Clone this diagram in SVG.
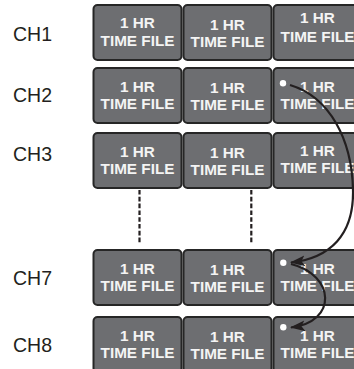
<svg xmlns="http://www.w3.org/2000/svg" width="354" height="369" viewBox="0 0 354 369">
<defs>
<style>
.box{fill:#6d6e71;stroke:#262626;stroke-width:2}
.t{font-family:"Liberation Sans",Arial,sans-serif;font-weight:bold;font-size:15.3px;fill:#f4f4f4;text-anchor:middle}
.ch{font-family:"Liberation Sans",Arial,sans-serif;font-size:19.5px;fill:#231f20}
.dash{stroke:#231f20;stroke-width:2.2;stroke-dasharray:4.6 2.2;fill:none}
.arc{stroke:#231f20;stroke-width:2.2;fill:none}
.dot{fill:#ffffff}
</style>
<marker id="ah" markerUnits="userSpaceOnUse" markerWidth="16" markerHeight="12" refX="14" refY="6" orient="auto" viewBox="0 0 16 12">
<path d="M0,0.5 L15,6 L0,11.5 L3.5,6 Z" fill="#231f20"/>
</marker>
<g id="tile">
<rect class="box" x="0" y="0" width="88" height="55" rx="4" ry="4"/>
</g>
</defs>
<rect width="354" height="369" fill="#ffffff"/>

<g id="labels">
<text class="ch" x="13" y="40.7">CH1</text>
<text class="ch" x="13" y="101.7">CH2</text>
<text class="ch" x="13" y="160.7">CH3</text>
<text class="ch" x="13" y="285">CH7</text>
<text class="ch" x="13" y="351.7">CH8</text>
</g>

<g id="ch1">
<g id="ch1-f1"><use href="#tile" x="93.5" y="5"/><text class="t" x="137.5" y="28.3">1 HR</text><text class="t" x="137.5" y="46">TIME FILE</text></g>
<g id="ch1-f2"><use href="#tile" x="183.5" y="5"/><text class="t" x="227.5" y="30">1 HR</text><text class="t" x="227.5" y="46.7">TIME FILE</text></g>
<g id="ch1-f3"><use href="#tile" x="273.5" y="5"/><text class="t" x="317.5" y="23.3">1 HR</text><text class="t" x="317.5" y="41.7">TIME FILE</text></g>
</g>
<g id="ch2">
<g id="ch2-f1"><use href="#tile" x="93.5" y="68"/><text class="t" x="137.5" y="91.5">1 HR</text><text class="t" x="137.5" y="108.5">TIME FILE</text></g>
<g id="ch2-f2"><use href="#tile" x="183.5" y="68"/><text class="t" x="227.5" y="93">1 HR</text><text class="t" x="227.5" y="109.5">TIME FILE</text></g>
<g id="ch2-f3"><use href="#tile" x="273.5" y="68"/><text class="t" x="317.5" y="91.5">1 HR</text><text class="t" x="317.5" y="108.5">TIME FILE</text><circle class="dot" cx="283" cy="83.3" r="3.2"/></g>
</g>
<g id="ch3">
<g id="ch3-f1"><use href="#tile" x="93.5" y="133"/><text class="t" x="137.5" y="156.5">1 HR</text><text class="t" x="137.5" y="173.5">TIME FILE</text></g>
<g id="ch3-f2"><use href="#tile" x="183.5" y="133"/><text class="t" x="227.5" y="158">1 HR</text><text class="t" x="227.5" y="174.5">TIME FILE</text></g>
<g id="ch3-f3"><use href="#tile" x="273.5" y="133"/><text class="t" x="317.5" y="156">1 HR</text><text class="t" x="317.5" y="172.5">TIME FILE</text></g>
</g>
<g id="ch7">
<g id="ch7-f1"><use href="#tile" x="93.5" y="250"/><text class="t" x="137.5" y="273.5">1 HR</text><text class="t" x="137.5" y="290.5">TIME FILE</text></g>
<g id="ch7-f2"><use href="#tile" x="183.5" y="250"/><text class="t" x="227.5" y="275">1 HR</text><text class="t" x="227.5" y="291.5">TIME FILE</text></g>
<g id="ch7-f3"><use href="#tile" x="273.5" y="250"/><text class="t" x="317.5" y="273.5">1 HR</text><text class="t" x="317.5" y="290.5">TIME FILE</text><circle class="dot" cx="283.3" cy="262.7" r="3.2"/></g>
</g>
<g id="ch8">
<g id="ch8-f1"><use href="#tile" x="93.5" y="317"/><text class="t" x="137.5" y="340.5">1 HR</text><text class="t" x="137.5" y="357.5">TIME FILE</text></g>
<g id="ch8-f2"><use href="#tile" x="183.5" y="317"/><text class="t" x="227.5" y="342">1 HR</text><text class="t" x="227.5" y="358.5">TIME FILE</text></g>
<g id="ch8-f3"><use href="#tile" x="273.5" y="317"/><text class="t" x="317.5" y="340.5">1 HR</text><text class="t" x="317.5" y="357.5">TIME FILE</text><circle class="dot" cx="283.3" cy="327.3" r="3.2"/></g>
</g>

<g id="connectors">
<line class="dash" x1="139.5" y1="190" x2="139.5" y2="244"/>
<line class="dash" x1="251.3" y1="190" x2="251.3" y2="244"/>
<path class="arc" d="M290,85 C330,97 352,140 353,190 C354,235 330,258 291,262.5" marker-end="url(#ah)"/>
<path class="arc" d="M291,264 C335,275 338,322 291,327.5" marker-end="url(#ah)"/>
</g>
</svg>
